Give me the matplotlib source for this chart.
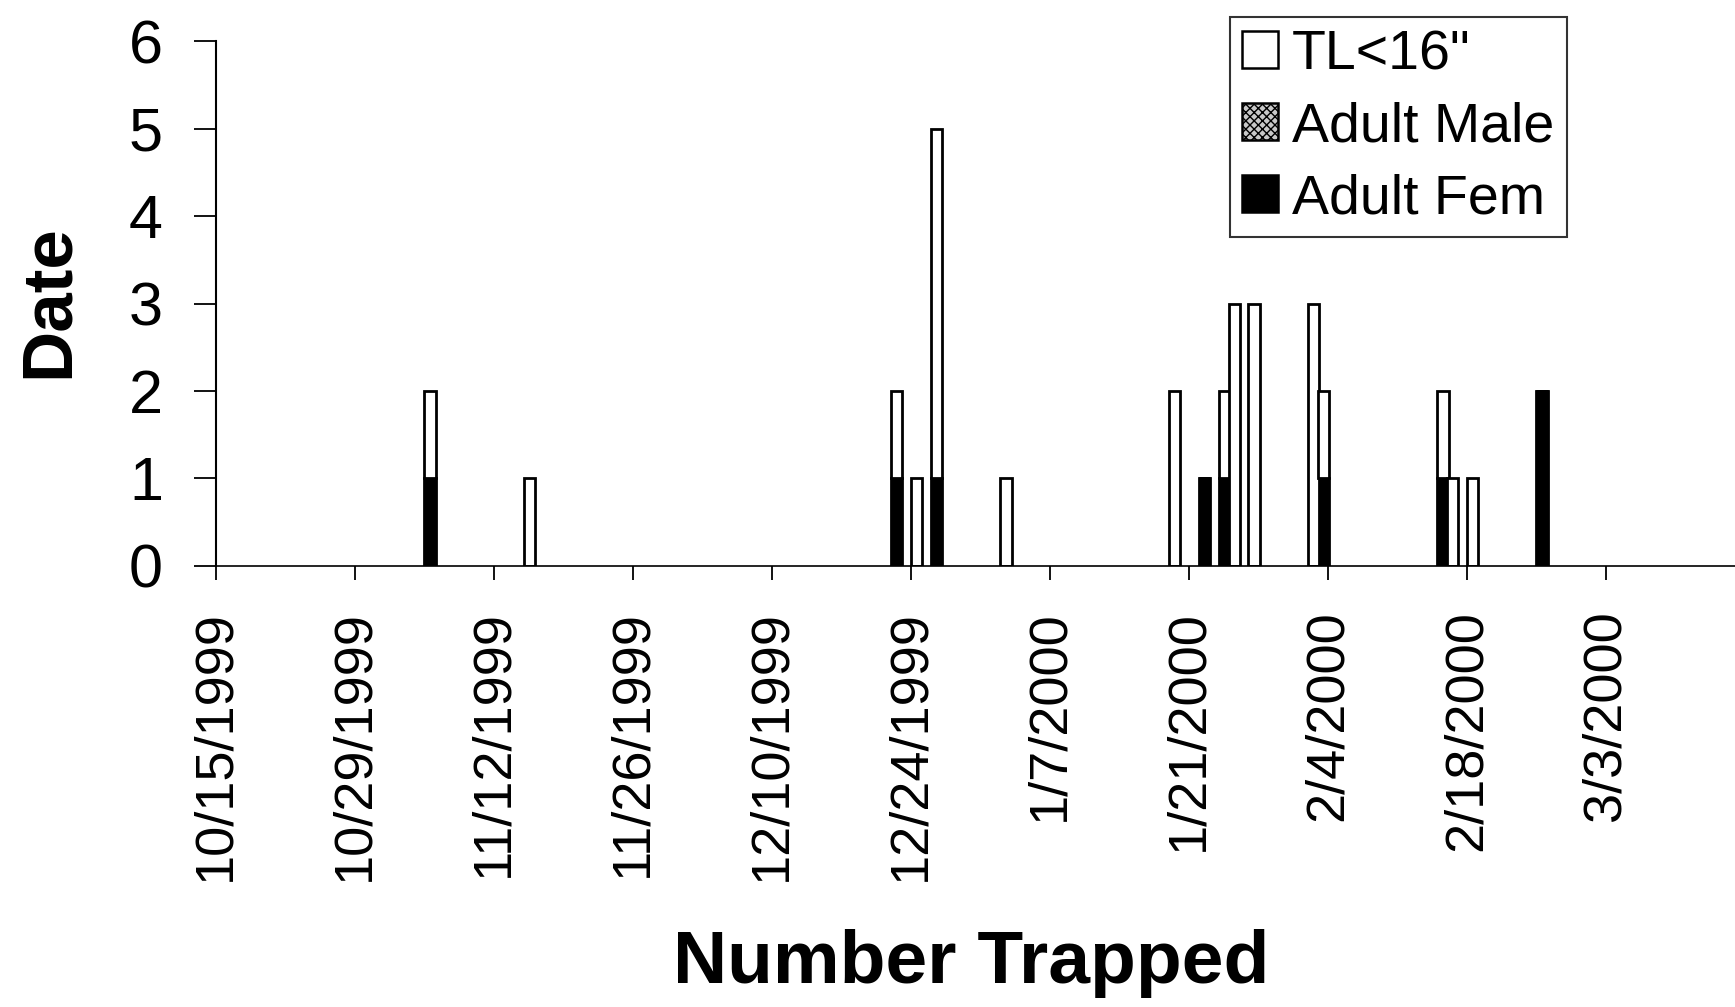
import numpy as np
import pandas as pd
import matplotlib
matplotlib.use("Agg")
import matplotlib.pyplot as plt
from matplotlib.patches import Patch

plt.rcParams['font.family'] = ['Liberation Sans', 'DejaVu Sans']

# trapping dates and counts per class
dates = pd.to_datetime([
    "1999-11-05", "1999-11-15", "1999-12-22", "1999-12-24", "1999-12-26",
    "2000-01-02", "2000-01-19", "2000-01-22", "2000-01-24", "2000-01-25",
    "2000-01-27", "2000-02-02", "2000-02-03", "2000-02-15", "2000-02-16",
    "2000-02-18", "2000-02-25",
])
adult_fem = [1, 0, 1, 0, 1, 0, 0, 1, 1, 0, 0, 0, 1, 1, 0, 0, 2]
adult_male = [0, 0, 0, 0, 0, 0, 0, 0, 0, 0, 0, 0, 0, 0, 0, 0, 0]
tl_small = [1, 1, 1, 1, 4, 1, 2, 0, 1, 3, 3, 3, 1, 1, 1, 1, 0]

tick_dates = pd.date_range("1999-10-15", "2000-03-03", freq="14D")
tick_labels = [f"{d.month}/{d.day}/{d.year}" for d in tick_dates]
y_ticks = [0, 1, 2, 3, 4, 5, 6]

fig = plt.figure(figsize=(17.35, 10.07), dpi=100)
ax = fig.add_axes([0.1243, 0.438, 0.8757, 0.521])

w = 1.15
lw = 2.0
fem = np.array(adult_fem)
male = np.array(adult_male)
tl = np.array(tl_small)
ax.bar(dates, fem, width=w, align="edge", color="black", edgecolor="black", linewidth=lw)
ax.bar(dates, male, width=w, align="edge", bottom=fem, color="#c8c8c8",
       edgecolor="black", linewidth=lw, hatch="xxxx")
ax.bar(dates, tl, width=w, align="edge", bottom=fem + male, color="white",
       edgecolor="black", linewidth=lw)

ax.set_xlim(pd.Timestamp("1999-10-15"), pd.Timestamp("2000-03-16"))
ax.set_ylim(0, 6)
ax.set_yticks(y_ticks)
ax.set_xticks(tick_dates)
ax.set_xticklabels(tick_labels, rotation=90, fontsize=39)
ax.tick_params(axis="y", labelsize=44, length=16, width=1.3, pad=22, direction="out")
ax.tick_params(axis="x", length=10, width=1.3, pad=22, direction="out")

for s in ["top", "right"]:
    ax.spines[s].set_visible(False)
ax.spines["left"].set_linewidth(1.5)
ax.spines["bottom"].set_linewidth(1.2)

fig.text(0.0287, 0.701, "Date", rotation=90, fontsize=51, fontweight="bold",
         ha="center", va="center")
fig.text(0.56, 0.024, "Number Trapped", fontsize=54, fontweight="bold",
         ha="center", va="baseline")

handles = [
    Patch(facecolor="white", edgecolor="black", linewidth=1.8),
    Patch(facecolor="#c8c8c8", edgecolor="black", linewidth=1.8, hatch="xxxx"),
    Patch(facecolor="black", edgecolor="black", linewidth=1.8),
]
leg = fig.legend(handles, ['TL<16"', "Adult Male", "Adult Fem"],
                 loc="upper left", bbox_to_anchor=(1230 / 1735, 1 - 17 / 1007),
                 fontsize=40, frameon=True, fancybox=False, borderpad=0.22,
                 handlelength=0.65, handleheight=0.65, handletextpad=0.25,
                 labelspacing=0.36, borderaxespad=0)
leg.get_frame().set_edgecolor("black")
leg.get_frame().set_linewidth(1.5)

fig.savefig("out.png", dpi=100)
